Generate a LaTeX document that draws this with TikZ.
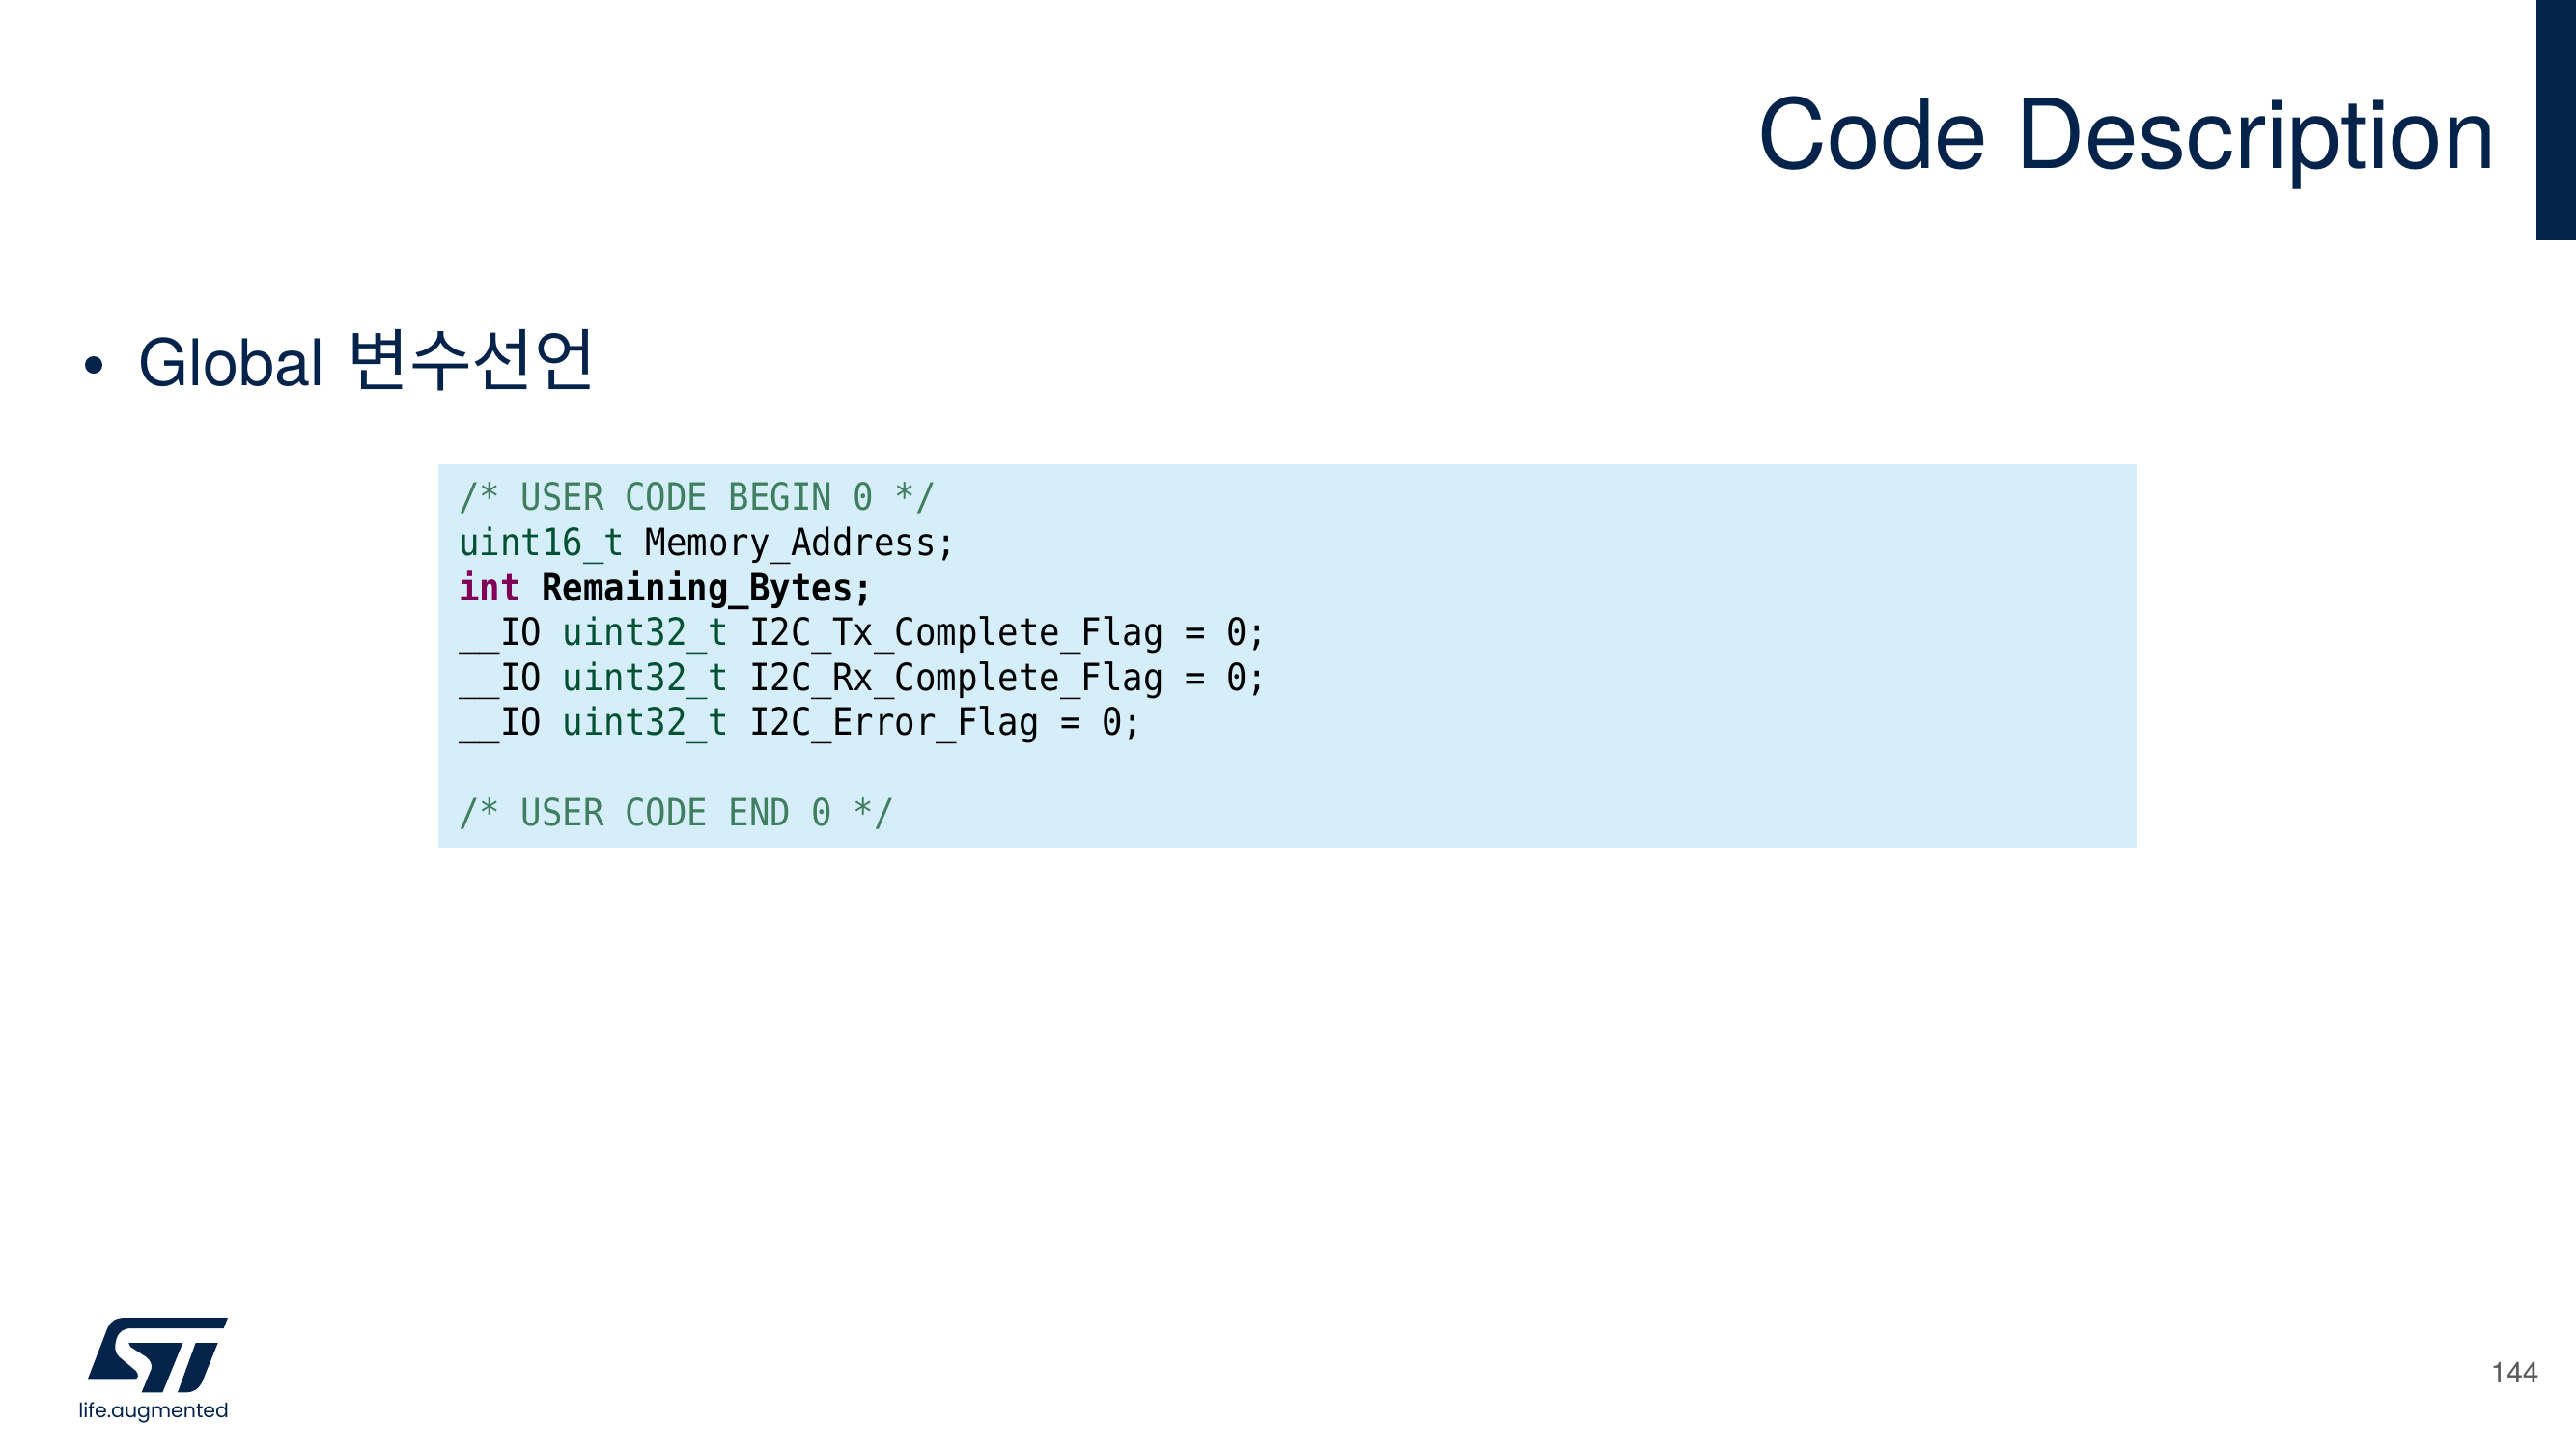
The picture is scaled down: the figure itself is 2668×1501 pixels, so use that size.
\documentclass[tikz,border=0pt]{standalone}
\usepackage{fontspec}
\setmainfont{TeX Gyre Heros}
\newfontfamily\cjk{Noto Sans CJK KR}
\newfontfamily\codefont[FakeStretch=0.915]{DejaVu Sans Mono}
\newfontfamily\logofont{Poppins}
\definecolor{stnavy}{HTML}{03234B}
\definecolor{codebg}{HTML}{D6EEF9}
\definecolor{cmt}{HTML}{3F7F5F}
\definecolor{typ}{HTML}{005032}
\definecolor{kw}{HTML}{7F0055}
\tikzset{
  codeline/.style={anchor=base west,inner sep=0pt,font=\codefont\fontsize{19.5}{23}\selectfont,text=black},
  navytext/.style={inner sep=0pt,text=stnavy},
}
\begin{document}
\begin{tikzpicture}[x=0.5pt,y=-0.5pt]
\useasboundingbox (0,0) rectangle (2668,1501);
\fill[white] (0,0) rectangle (2668,1501);
\fill[stnavy] (2627,0) rectangle (2668,249);
\node[navytext,anchor=base east,font=\fontsize{49.9}{58}\selectfont] (title) at (2586,174) {Code Description};
\fill[stnavy] (97,378) circle (9);
\node[navytext,anchor=base west,font=\fontsize{33.3}{40}\selectfont] (bullet) at (143,399) {Global};
\node[navytext,anchor=base west,font=\cjk\fontsize{35.2}{40}\selectfont] (korean) at (359,399) {변수선언};
\fill[codebg] (454,481) rectangle (2213,878);
\node[codeline] (l1) at (475,528) {\textcolor{cmt}{/* USER CODE BEGIN 0 */}};
\node[codeline] (l2) at (475,575) {\textcolor{typ}{uint16\_t} Memory\_Address;};
\node[codeline] (l3) at (475,622) {\textbf{\textcolor{kw}{int} Remaining\_Bytes;}};
\node[codeline] (l4) at (475,668) {\_\_IO \textcolor{typ}{uint32\_t} I2C\_Tx\_Complete\_Flag = 0;};
\node[codeline] (l5) at (475,715) {\_\_IO \textcolor{typ}{uint32\_t} I2C\_Rx\_Complete\_Flag = 0;};
\node[codeline] (l6) at (475,761) {\_\_IO \textcolor{typ}{uint32\_t} I2C\_Error\_Flag = 0;};
\node[codeline] (l8) at (475,855) {\textcolor{cmt}{/* USER CODE END 0 */}};
\begin{scope}[shift={(50,1340)},x=0.16667pt,y=-0.16667pt]
\fill[stnavy] (558,75) -- (240,75) .. controls (210,75) and (195,85) .. (185,105) -- (123,265) -- (270,265) .. controls (280,265) and (282,250) .. (272,240) -- (222,198) .. controls (205,183) and (205,165) .. (212,140) .. controls (220,118) and (232,108) .. (260,108) -- (545,108) -- cycle;
\fill[stnavy] (250,153) -- (418,153) -- (355,307) -- (290,307) -- (320,235) .. controls (325,220) and (315,205) .. (305,197) -- (255,165) -- cycle;
\fill[stnavy] (458,153) -- (527,153) -- (480,270) .. controls (470,295) and (450,307) .. (430,307) -- (402,307) -- cycle;
\end{scope}
\node[navytext,anchor=base west,font=\logofont\fontsize{10.25}{12}\selectfont] (tagline) at (81,1468) {life.augmented};
\node[anchor=base east,inner sep=0pt,text=black!65,font=\fontsize{15}{18}\selectfont] (page) at (2630,1432) {144};
\end{tikzpicture}
\end{document}
